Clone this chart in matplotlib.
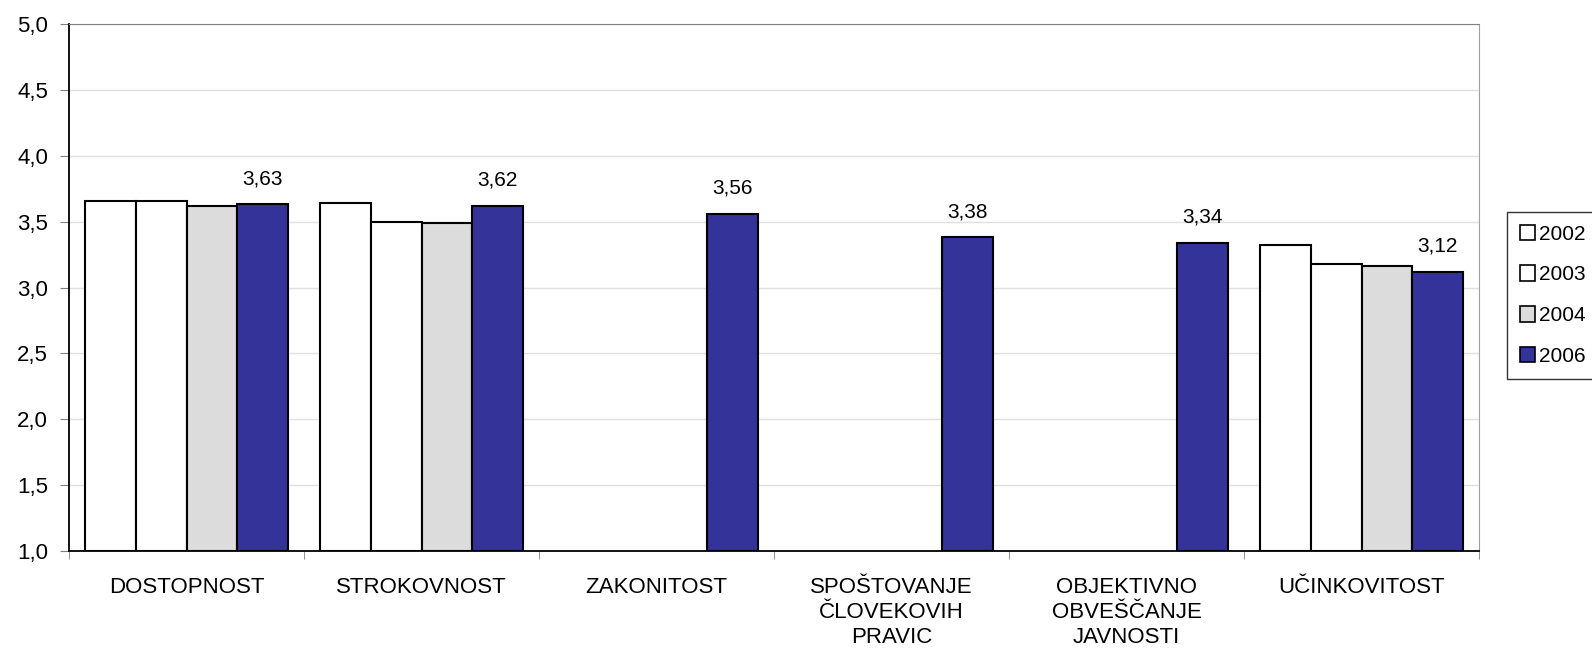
import numpy as np
import matplotlib
matplotlib.use("Agg")
import matplotlib.pyplot as plt
from matplotlib.patches import Patch

plt.rcParams["font.family"] = ["Liberation Sans", "DejaVu Sans"]

# ── Data ─────────────────────────────────────────────────────────────────────
categories = ["DOSTOPNOST", "STROKOVNOST", "ZAKONITOST",
              "SPOŠTOVANJE\nČLOVEKOVIH\nPRAVIC",
              "OBJEKTIVNO\nOBVEŠČANJE\nJAVNOSTI", "UČINKOVITOST"]
years = ["2002", "2003", "2004", "2006"]
v2002 = [3.66, 3.64, np.nan, np.nan, np.nan, 3.32]
v2003 = [3.66, 3.50, np.nan, np.nan, np.nan, 3.18]
v2004 = [3.62, 3.49, np.nan, np.nan, np.nan, 3.16]
v2006 = [3.63, 3.62, 3.56, 3.38, 3.34, 3.12]
colors = ["#ffffff", "#ffffff", "#dcdcdc", "#333399"]

series = [v2002, v2003, v2004, v2006]

# ── Figure ───────────────────────────────────────────────────────────────────
fig = plt.figure(figsize=(15.92, 6.63), dpi=100)
ax = fig.add_axes([69 / 1592, 1 - 551 / 663, (1479 - 69) / 1592, (551 - 24) / 663])

x = np.arange(len(categories))
w = 0.215
for i, (vals, col) in enumerate(zip(series, colors)):
    vals = np.array(vals, dtype=float)
    pos = x + (i - 1.5) * w
    mask = ~np.isnan(vals)
    ax.bar(pos[mask], vals[mask] - 1.0, bottom=1.0, width=w, color=col,
           edgecolor="black", linewidth=1.5, zorder=3)

# labels for 2006 only
for xi, v in zip(x + 1.5 * w, v2006):
    ax.annotate(f"{v:.2f}".replace(".", ","), xy=(xi, v), xytext=(0, 11.5),
                textcoords="offset points", ha="center", va="bottom", fontsize=15)

ax.set_ylim(1.0, 5.0)
ax.set_xlim(-0.5, len(categories) - 0.5)
yt = np.arange(1.0, 5.01, 0.5)
ax.set_yticks(yt)
ax.set_yticklabels([f"{t:.1f}".replace(".", ",") for t in yt], fontsize=16)
ax.yaxis.grid(True, color="#e0e0e0", linewidth=1, zorder=0)

ax.set_xticks(x)
ax.set_xticklabels(categories, fontsize=16, linespacing=1.25, va="top")
ax.tick_params(axis="x", which="major", length=0, pad=19)
ax.set_xticks(np.arange(-0.5, len(categories)), minor=True)
ax.tick_params(axis="x", which="minor", length=6, color="#808080")
ax.tick_params(axis="y", length=6.5, color="#808080", pad=8.5)

ax.spines["left"].set_color("black")
ax.spines["bottom"].set_color("black")
ax.spines["left"].set_linewidth(1.3)
ax.spines["bottom"].set_linewidth(1.3)
ax.spines["top"].set_color("#808080")
ax.spines["right"].set_color("#a0a0a0")

handles = [Patch(facecolor=c, edgecolor="black", linewidth=1.2) for c in colors]
leg = fig.legend(handles, years, loc="upper left",
                 bbox_to_anchor=(1507 / 1592, 1 - 212 / 663),
                 fontsize=15, frameon=True, fancybox=False, edgecolor="black",
                 handlelength=0.75, handleheight=0.75, handletextpad=0.2,
                 labelspacing=1.05, borderpad=0.6, borderaxespad=0)
leg.get_frame().set_linewidth(1.0)

fig.savefig("out.png", dpi=100)
